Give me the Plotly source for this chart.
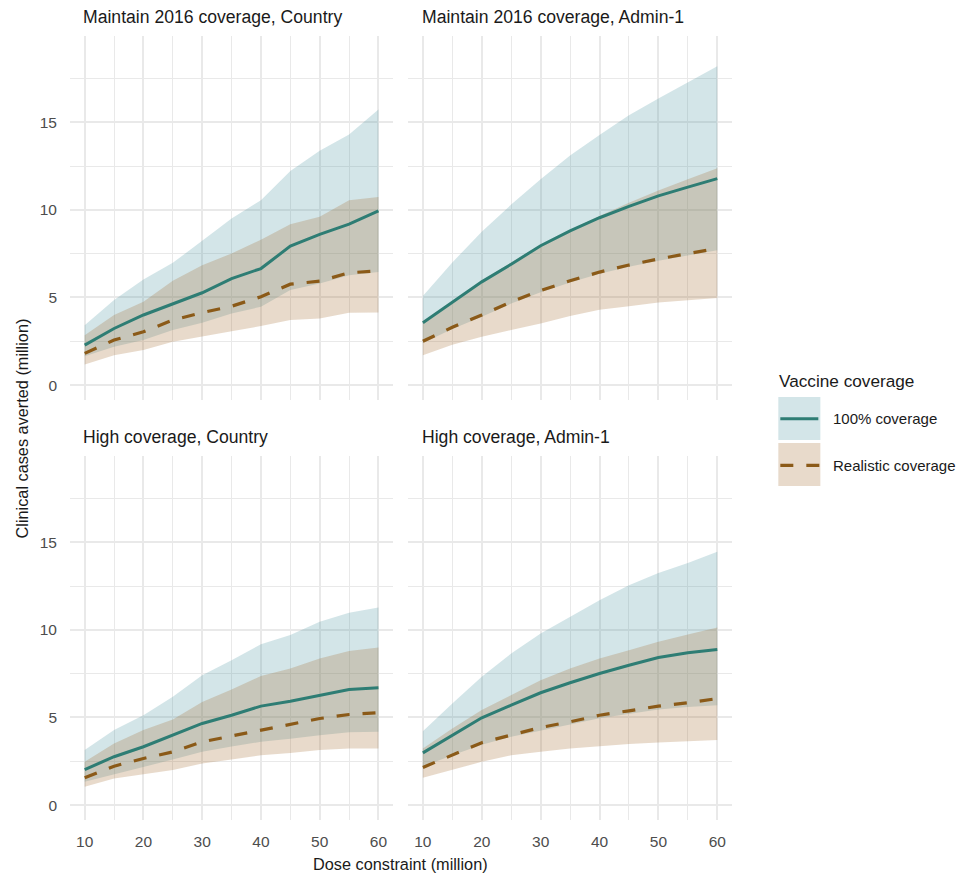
import plotly.graph_objects as go

# ---------------- data ----------------
dose = [10, 15, 20, 25, 30, 35, 40, 45, 50, 55, 60]

# Maintain 2016 coverage, Country
mc_full_mean = [2.28, 3.23, 4.00, 4.62, 5.27, 6.08, 6.65, 7.93, 8.60, 9.18, 9.94]
mc_full_hi = [3.42, 4.85, 6.03, 6.98, 8.23, 9.50, 10.55, 12.22, 13.37, 14.30, 15.72]
mc_full_lo = [1.65, 2.19, 2.57, 3.14, 3.56, 4.09, 4.47, 5.42, 5.80, 6.27, 6.45]
mc_real_mean = [1.81, 2.57, 3.04, 3.71, 4.14, 4.50, 5.04, 5.76, 5.93, 6.41, 6.52]
mc_real_hi = [2.85, 4.00, 4.75, 5.95, 6.84, 7.51, 8.30, 9.18, 9.60, 10.55, 10.74]
mc_real_lo = [1.18, 1.71, 2.00, 2.47, 2.79, 3.08, 3.37, 3.71, 3.80, 4.13, 4.14]

# Maintain 2016 coverage, Admin-1
ma_full_mean = [3.56, 4.75, 5.89, 6.90, 7.95, 8.80, 9.55, 10.20, 10.80, 11.30, 11.78]
ma_full_hi = [5.08, 7.00, 8.75, 10.30, 11.75, 13.10, 14.27, 15.40, 16.36, 17.30, 18.20]
ma_full_lo = [2.40, 3.20, 3.90, 4.65, 5.30, 5.85, 6.35, 6.75, 7.10, 7.40, 7.70]
ma_real_mean = [2.50, 3.30, 4.00, 4.75, 5.40, 5.95, 6.45, 6.85, 7.20, 7.50, 7.80]
ma_real_hi = [3.60, 4.80, 5.95, 7.00, 8.00, 8.85, 9.65, 10.40, 11.10, 11.75, 12.37]
ma_real_lo = [1.71, 2.30, 2.76, 3.15, 3.52, 3.95, 4.30, 4.50, 4.72, 4.85, 4.97]

# High coverage, Country
hc_full_mean = [2.03, 2.76, 3.33, 3.99, 4.66, 5.13, 5.65, 5.93, 6.27, 6.60, 6.69]
hc_full_hi = [3.14, 4.28, 5.13, 6.18, 7.41, 8.27, 9.18, 9.70, 10.46, 10.97, 11.27]
hc_full_lo = [1.33, 1.75, 2.19, 2.60, 3.04, 3.35, 3.61, 3.78, 3.99, 4.15, 4.18]
hc_real_mean = [1.56, 2.22, 2.66, 3.04, 3.61, 3.94, 4.28, 4.62, 4.94, 5.17, 5.27]
hc_real_hi = [2.47, 3.52, 4.28, 4.89, 5.89, 6.60, 7.36, 7.79, 8.37, 8.80, 8.99]
hc_real_lo = [1.05, 1.52, 1.77, 2.00, 2.38, 2.60, 2.85, 2.98, 3.14, 3.23, 3.23]

# High coverage, Admin-1
ha_full_mean = [2.98, 4.00, 4.98, 5.70, 6.41, 6.98, 7.51, 7.98, 8.42, 8.69, 8.88]
ha_full_hi = [4.22, 5.80, 7.32, 8.65, 9.79, 10.74, 11.69, 12.55, 13.25, 13.82, 14.45]
ha_full_lo = [2.20, 2.85, 3.45, 3.90, 4.25, 4.60, 4.95, 5.20, 5.45, 5.60, 5.70]
ha_real_mean = [2.15, 2.85, 3.56, 4.00, 4.43, 4.75, 5.13, 5.38, 5.65, 5.84, 6.08]
ha_real_hi = [3.23, 4.37, 5.42, 6.27, 7.13, 7.79, 8.37, 8.84, 9.32, 9.73, 10.13]
ha_real_lo = [1.56, 2.00, 2.47, 2.85, 3.04, 3.23, 3.37, 3.48, 3.57, 3.65, 3.71]

panel_titles = ["Maintain 2016 coverage, Country", "Maintain 2016 coverage, Admin-1",
                "High coverage, Country", "High coverage, Admin-1"]
series_names = ["100% coverage", "Realistic coverage"]
x_ticks = [10, 20, 30, 40, 50, 60]
x_minor = [15, 25, 35, 45, 55]
y_ticks = [0, 5, 10, 15]
y_minor = [2.5, 7.5, 12.5, 17.5]

panels = [
    (mc_full_mean, mc_full_lo, mc_full_hi, mc_real_mean, mc_real_lo, mc_real_hi),
    (ma_full_mean, ma_full_lo, ma_full_hi, ma_real_mean, ma_real_lo, ma_real_hi),
    (hc_full_mean, hc_full_lo, hc_full_hi, hc_real_mean, hc_real_lo, hc_real_hi),
    (ha_full_mean, ha_full_lo, ha_full_hi, ha_real_mean, ha_real_lo, ha_real_hi),
]

# ---------------- style ----------------
TEAL = "#2e7d74"
BROWN = "#8b5a18"
BLUE_FILL = "rgba(79,151,163,0.25)"
BROWN_FILL = "rgba(163,107,47,0.25)"
GRID = "#e9e9e9"
DASH = "13px,13px"

W, H = 966, 873
L, R, T, B = 70, 731.7, 36, 820


def fx(px):
    return (px - L) / (R - L)


def fy(py):
    return (B - py) / (B - T)


xdom = [[fx(70), fx(393)], [fx(408), fx(731.7)]]
ydom = [[fy(400), fy(36)], [fy(820), fy(456)]]

fig = go.Figure()

for i, (fm, fl, fh, rm, rl, rh) in enumerate(panels):
    ax = "" if i == 0 else str(i + 1)
    xa, ya = "x" + ax, "y" + ax
    fig.add_trace(go.Scatter(x=dose + dose[::-1], y=fh + fl[::-1], fill="toself",
                             fillcolor=BLUE_FILL, line=dict(width=0), mode="lines",
                             hoverinfo="skip", showlegend=False, xaxis=xa, yaxis=ya))
    fig.add_trace(go.Scatter(x=dose + dose[::-1], y=rh + rl[::-1], fill="toself",
                             fillcolor=BROWN_FILL, line=dict(width=0), mode="lines",
                             hoverinfo="skip", showlegend=False, xaxis=xa, yaxis=ya))
    fig.add_trace(go.Scatter(x=dose, y=fm, mode="lines", name=series_names[0],
                             line=dict(color=TEAL, width=3), showlegend=False,
                             xaxis=xa, yaxis=ya))
    fig.add_trace(go.Scatter(x=dose, y=rm, mode="lines", name=series_names[1],
                             line=dict(color=BROWN, width=3.2, dash=DASH),
                             showlegend=False, xaxis=xa, yaxis=ya))

layout = dict(
    width=W, height=H,
    margin=dict(l=L, r=W - R, t=T, b=H - B, pad=0),
    paper_bgcolor="white", plot_bgcolor="white",
    font=dict(family="Liberation Sans, Arial, sans-serif", color="#1a1a1a"),
    showlegend=False,
)

for i in range(4):
    ax = "" if i == 0 else str(i + 1)
    col, row = i % 2, i // 2
    layout["xaxis" + ax] = dict(
        domain=xdom[col], range=[7.5, 62.5], anchor="y" + ax,
        tickvals=x_ticks, showticklabels=(row == 1), showgrid=True,
        gridcolor=GRID, gridwidth=1.8, zeroline=False, showline=False, ticks="",
        ticklabelstandoff=10,
        tickfont=dict(size=15.5, color="#4d4d4d"),
        minor=dict(tickvals=x_minor, showgrid=True, gridcolor=GRID, gridwidth=1.3),
    )
    layout["yaxis" + ax] = dict(
        domain=ydom[row], range=[-0.85, 19.92], anchor="x" + ax,
        tickvals=y_ticks, showticklabels=(col == 0), showgrid=True,
        gridcolor=GRID, gridwidth=1.8, zeroline=False, showline=False, ticks="",
        ticklabelstandoff=12,
        tickfont=dict(size=15.5, color="#4d4d4d"),
        minor=dict(tickvals=y_minor, showgrid=True, gridcolor=GRID, gridwidth=1.3),
    )

fig.update_layout(**layout)

annotations = []
title_pos = [(81, 17), (419.7, 17), (81, 436.7), (419.7, 436.7)]
for (px, py), t in zip(title_pos, panel_titles):
    annotations.append(dict(text=t, x=fx(px), y=fy(py), xref="paper", yref="paper",
                            xanchor="left", yanchor="middle", showarrow=False,
                            font=dict(size=17.6, color="#1a1a1a")))
annotations.append(dict(text="Dose constraint (million)", x=fx(400.8), y=fy(864),
                        xref="paper", yref="paper", xanchor="center", yanchor="middle",
                        showarrow=False, font=dict(size=16.3, color="#1a1a1a")))
annotations.append(dict(text="Clinical cases averted (million)", x=fx(22.5), y=fy(428),
                        xref="paper", yref="paper", xanchor="center", yanchor="middle",
                        textangle=-90, showarrow=False,
                        font=dict(size=16.3, color="#1a1a1a")))
# legend (drawn manually to mimic ggplot keys)
annotations.append(dict(text="Vaccine coverage", x=fx(777), y=fy(380.7), xref="paper",
                        yref="paper", xanchor="left", yanchor="middle", showarrow=False,
                        font=dict(size=17.2, color="#1a1a1a")))
for name, py in zip(series_names, [418.7, 465.3]):
    annotations.append(dict(text=name, x=fx(831), y=fy(py), xref="paper", yref="paper",
                            xanchor="left", yanchor="middle", showarrow=False,
                            font=dict(size=15, color="#1a1a1a")))

shapes = [
    dict(type="rect", xref="paper", yref="paper", x0=fx(778), x1=fx(820),
         y0=fy(440), y1=fy(397), fillcolor=BLUE_FILL, line=dict(width=0)),
    dict(type="rect", xref="paper", yref="paper", x0=fx(778), x1=fx(820),
         y0=fy(486), y1=fy(443), fillcolor=BROWN_FILL, line=dict(width=0)),
    dict(type="line", xref="paper", yref="paper", x0=fx(780), x1=fx(818),
         y0=fy(418.7), y1=fy(418.7), line=dict(color=TEAL, width=3)),
    dict(type="line", xref="paper", yref="paper", x0=fx(780), x1=fx(820),
         y0=fy(465.3), y1=fy(465.3), line=dict(color=BROWN, width=3.2, dash="13px,13px")),
]

fig.update_layout(annotations=annotations, shapes=shapes)

fig.write_html("out.html",
               config={"displayModeBar": False},
               post_script="document.body.style.margin='0px';"
                           "document.body.style.overflow='hidden';")
